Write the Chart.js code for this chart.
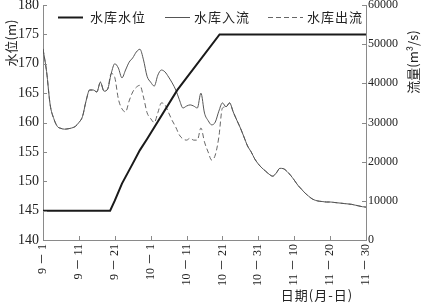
<!DOCTYPE html>
<html><head><meta charset="utf-8">
<script src="https://cdn.jsdelivr.net/npm/chart.js@4/dist/chart.umd.min.js"></script>
<style>html,body{margin:0;padding:0;background:#fff}canvas{display:block}</style>
</head><body>
<canvas id="c" width="422" height="303"></canvas>
<script>
// ---- data ----
const tickDays = [0,10,20,30,40,50,60,70,80,90];
const tickLabels = ['9 － 1','9 － 11','9 － 21','10 － 1','10 － 11','10 － 21','10 － 31','11 － 10','11 － 20','11 － 30'];
const seriesNames = ['水库水位','水库入流','水库出流'];
const levelDays = [0, 18.7, 20, 22, 25, 27, 29, 37.4, 49.2, 90];
const levelValues = [145, 145, 146.7, 149.6, 153, 155.3, 157.2, 165.5, 175, 175];
const inflow = [48800,43000,34500,31000,29000,28500,28300,28400,28600,29000,
30000,31500,35500,38300,38300,37800,40300,38000,38500,42500,
45000,43900,41400,43400,45400,46500,48000,48700,46000,41800,
40300,39300,42100,43400,42900,41600,40100,38300,35800,33700,
34200,34500,34200,33700,37500,32400,30500,29400,30100,32900,
35000,34000,35000,32700,30600,28600,26300,24000,22500,20700,
19400,18400,17600,16800,16300,17100,18300,18200,17500,16500,
15300,14000,13000,12000,11200,10500,10100,9900,9800,9700,
9700,9600,9500,9400,9300,9200,9100,8900,8700,8500,8400];
const outflow = [48800,43000,34500,31000,29000,28500,28300,28400,28600,29000,
30000,31500,35500,38300,38300,37800,40300,38000,38500,42500,
41500,36000,33500,32700,35500,37800,39000,39500,36500,32500,
31000,30000,32500,35000,34500,32500,30500,28800,26800,25800,
25500,26000,25500,25500,28600,25000,22500,20400,21700,26300,
33700,34000,35000,32700,30600,28600,26300,24000,22500,20700,
19400,18400,17600,16800,16300,17100,18300,18200,17500,16500,
15300,14000,13000,12000,11200,10500,10100,9900,9800,9700,
9700,9600,9500,9400,9300,9200,9100,8900,8700,8500,8400];
const leftTitle = '水位(m)';
const rightTitle = '流量(m³/s)';
const xTitle = '日期(月-日)';

const SERIF = "'Liberation Serif','DejaVu Serif','Noto Sans CJK SC',serif";
const CJK = "'Noto Sans CJK SC','Liberation Serif',serif";
const AX = '#8a8a8a';

const extras = {
  id: 'extras',
  afterDraw(chart) {
    const ctx = chart.ctx, a = chart.chartArea;
    const sx = chart.scales.x, sy = chart.scales.y, sy1 = chart.scales.y1;
    ctx.save();
    // inward tick marks
    ctx.strokeStyle = AX; ctx.lineWidth = 1;
    ctx.beginPath();
    sx.ticks.forEach(t => { const p = Math.round(sx.getPixelForValue(t.value)) + 0.5; ctx.moveTo(p, a.bottom); ctx.lineTo(p, a.bottom - 4); });
    sy.ticks.forEach(t => { const p = Math.round(sy.getPixelForValue(t.value)) + 0.5; ctx.moveTo(a.left, p); ctx.lineTo(a.left + 4, p); });
    sy1.ticks.forEach(t => { const p = Math.round(sy1.getPixelForValue(t.value)) + 0.5; ctx.moveTo(a.right, p); ctx.lineTo(a.right - 4, p); });
    ctx.stroke();
    // legend
    const items = [[58, 83, 90], [165, 190, 194], [268, 303, 307]];
    chart.data.datasets.forEach((ds, i) => {
      const [x0, x1, tx] = items[i];
      const y = 17.5;
      ctx.strokeStyle = ds.borderColor; ctx.lineWidth = ds.borderWidth;
      ctx.setLineDash(ds.borderDash || []);
      ctx.beginPath(); ctx.moveTo(x0, y); ctx.lineTo(x1, y); ctx.stroke();
      ctx.setLineDash([]);
      ctx.fillStyle = '#222'; ctx.font = '13px ' + CJK;
      ctx.letterSpacing = '1px';
      ctx.textBaseline = 'middle'; ctx.textAlign = 'left';
      ctx.fillText(ds.label, tx, y);
    });
    ctx.letterSpacing = '0px';
    // axis titles
    ctx.fillStyle = '#222'; ctx.font = '13px ' + CJK; ctx.textAlign = 'center'; ctx.textBaseline = 'middle';
    ctx.save(); ctx.translate(11, 43); ctx.rotate(-Math.PI / 2); ctx.fillText(leftTitle, 0, 0); ctx.restore();
    ctx.save(); ctx.translate(413, 62); ctx.rotate(-Math.PI / 2); ctx.fillText(rightTitle, 0, 0); ctx.restore();
    ctx.letterSpacing = '1px';
    ctx.fillText(xTitle, 317, 295);
    ctx.letterSpacing = '0px';
    ctx.restore();
  }
};

new Chart(document.getElementById('c'), {
  type: 'line',
  data: {
    datasets: [
      { label: seriesNames[0], data: levelDays.map((d, i) => ({ x: d, y: levelValues[i] })), yAxisID: 'y',
        borderColor: '#1a1a1a', borderWidth: 2, pointRadius: 0, tension: 0, order: 0 },
      { label: seriesNames[1], data: inflow.map((v, i) => ({ x: i, y: v })), yAxisID: 'y1',
        borderColor: '#555', borderWidth: 1, pointRadius: 0, cubicInterpolationMode: 'monotone', order: 1 },
      { label: seriesNames[2], data: outflow.map((v, i) => ({ x: i, y: v })), yAxisID: 'y1',
        borderColor: '#666', borderWidth: 1, borderDash: [5, 3], pointRadius: 0, cubicInterpolationMode: 'monotone', order: 2 }
    ]
  },
  options: {
    responsive: false, animation: false,
    layout: { padding: { top: 5, left: 0, right: 0, bottom: 0 } },
    plugins: { legend: { display: false }, tooltip: { enabled: false } },
    scales: {
      x: {
        type: 'linear', min: 0, max: 90,
        afterBuildTicks: s => { s.ticks = tickDays.map(v => ({ value: v })); },
        ticks: { autoSkip: false, maxRotation: 90, minRotation: 90, padding: 4, color: '#222',
          font: { family: SERIF, size: 12 },
          callback: v => tickLabels[tickDays.indexOf(v)] },
        grid: { display: true, drawOnChartArea: false, drawTicks: false },
        border: { color: AX },
        afterFit: s => { s.height = 63; s.paddingLeft = 0; s.paddingRight = 0; }
      },
      y: {
        position: 'left', min: 140, max: 180,
        ticks: { stepSize: 5, padding: 4, color: '#222', font: { family: SERIF, size: 14 },
          callback: v => String(v) },
        grid: { display: true, drawOnChartArea: false, drawTicks: false },
        border: { color: AX },
        afterFit: s => { s.width = 43; s.paddingTop = 0; s.paddingBottom = 0; }
      },
      y1: {
        position: 'right', min: 0, max: 60000,
        ticks: { stepSize: 10000, padding: 2, color: '#222', font: { family: SERIF, size: 12 },
          callback: v => String(v) },
        grid: { display: true, drawOnChartArea: false, drawTicks: false },
        border: { color: AX },
        afterFit: s => { s.width = 56; s.paddingTop = 0; s.paddingBottom = 0; }
      }
    }
  },
  plugins: [extras]
});
</script>
</body></html>
